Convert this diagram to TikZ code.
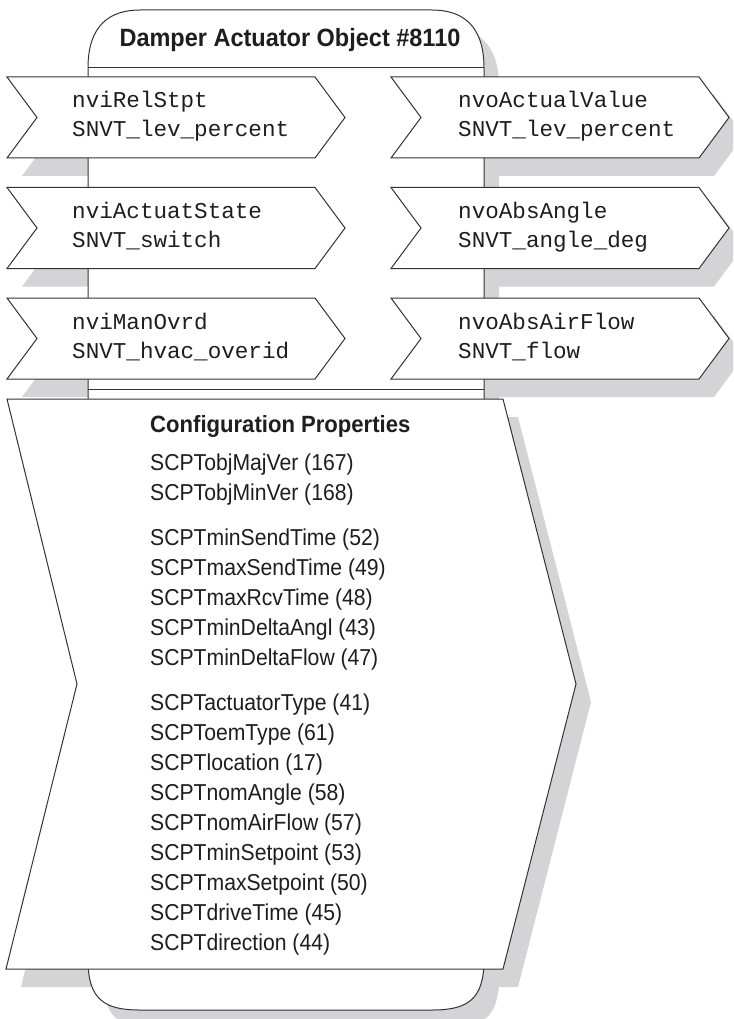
\documentclass[tikz,border=0pt]{standalone}
\usepackage{fontspec}
\setmainfont{Liberation Sans}
\newfontfamily\monofont{Liberation Mono}
\newfontfamily\condsans[FakeStretch=0.92]{Liberation Sans}
\newfontfamily\condsansb[FakeStretch=0.94]{Liberation Sans Bold}
\definecolor{linegray}{HTML}{333333}
\definecolor{shadowgray}{HTML}{D4D4D6}
\definecolor{textdark}{HTML}{1E1E1E}
\tikzset{
  outline/.style={draw=linegray, line width=1pt, fill=white, line join=miter},
  plainline/.style={draw=linegray, line width=1pt},
  shadowfill/.style={fill=shadowgray, draw=none},
  bodyp/.style={insert path={(88,68) .. controls (88,25) and (110,10) .. (140,10) -- (432,10) .. controls (462,10) and (484,25) .. (484,68) -- (484,960) .. controls (484,1000) and (467,1010) .. (432,1010) -- (140,1010) .. controls (105,1010) and (88,1000) .. (88,960) -- cycle}},
  arrowp/.style 2 args={insert path={(#1,#2) -- ++(308,0) -- ++(30,40.5) -- ++(-30,40.5) -- ++(-308,0) -- ++(30,-40.5) -- cycle}},
  bigp/.style={insert path={(7,399) -- (503,399) -- (576,684) -- (503,969) -- (6,969) -- (77,684) -- cycle}},
  monotext/.style={anchor=base west, inner sep=0pt, text=textdark, font=\fontsize{22.6}{27}\selectfont\monofont},
  headtext/.style={anchor=base, inner sep=0pt, text=textdark, font=\fontsize{25}{30}\selectfont\condsansb},
  cptitle/.style={anchor=base west, inner sep=0pt, text=textdark, font=\fontsize{23.5}{28}\selectfont\condsansb},
  cpitem/.style={anchor=base west, inner sep=0pt, text=textdark, font=\fontsize{23}{28}\selectfont\condsans}
}
\begin{document}
\begin{tikzpicture}[x=1pt,y=-1pt]
\useasboundingbox (0,0) rectangle (733,1019);
\clip (0,0) rectangle (733,1019);
% shadows
\begin{scope}[shift={(15,18)}]
  \fill[shadowfill, bodyp];
  \fill[shadowfill, arrowp={7}{77}];
  \fill[shadowfill, arrowp={7}{187.5}];
  \fill[shadowfill, arrowp={7}{298}];
  \fill[shadowfill, arrowp={391}{77}];
  \fill[shadowfill, arrowp={391}{187.5}];
  \fill[shadowfill, arrowp={391}{298}];
  \fill[shadowfill, bigp];
\end{scope}
% body
\path[outline, bodyp];
\coordinate (tabL) at (88,68);
\coordinate (tabR) at (484,68);
\coordinate (sepL) at (88,389);
\coordinate (sepR) at (484,389);
\draw[plainline] (tabL) -- (tabR);
\draw[plainline] (sepL) -- (sepR);
% arrows
\path[outline, arrowp={7}{77}];
\path[outline, arrowp={7}{187.5}];
\path[outline, arrowp={7}{298}];
\path[outline, arrowp={391}{77}];
\path[outline, arrowp={391}{187.5}];
\path[outline, arrowp={391}{298}];
\path[outline, bigp];
% texts
\node[headtext] (head) at (290,47) {Damper Actuator Object \#8110};
\node[monotext] (i1a) at (72,108) {nviRelStpt};
\node[monotext] (i1b) at (72,137) {SNVT\_lev\_percent};
\node[monotext] (i2a) at (72,218.5) {nviActuatState};
\node[monotext] (i2b) at (72,247.5) {SNVT\_switch};
\node[monotext] (i3a) at (72,329) {nviManOvrd};
\node[monotext] (i3b) at (72,358) {SNVT\_hvac\_overid};
\node[monotext] (o1a) at (458,108) {nvoActualValue};
\node[monotext] (o1b) at (458,137) {SNVT\_lev\_percent};
\node[monotext] (o2a) at (458,218.5) {nvoAbsAngle};
\node[monotext] (o2b) at (458,247.5) {SNVT\_angle\_deg};
\node[monotext] (o3a) at (458,329) {nvoAbsAirFlow};
\node[monotext] (o3b) at (458,358) {SNVT\_flow};
\node[cptitle] (cpt) at (150,432) {Configuration Properties};
\node[cpitem] (c1) at (150,470) {SCPTobjMajVer (167)};
\node[cpitem] (c2) at (150,500) {SCPTobjMinVer (168)};
\node[cpitem] (c3) at (150,545) {SCPTminSendTime (52)};
\node[cpitem] (c4) at (150,575) {SCPTmaxSendTime (49)};
\node[cpitem] (c5) at (150,605) {SCPTmaxRcvTime (48)};
\node[cpitem] (c6) at (150,635) {SCPTminDeltaAngl (43)};
\node[cpitem] (c7) at (150,665) {SCPTminDeltaFlow (47)};
\node[cpitem] (c8) at (150,710) {SCPTactuatorType (41)};
\node[cpitem] (c9) at (150,740) {SCPToemType (61)};
\node[cpitem] (c10) at (150,770) {SCPTlocation (17)};
\node[cpitem] (c11) at (150,800) {SCPTnomAngle (58)};
\node[cpitem] (c12) at (150,830) {SCPTnomAirFlow (57)};
\node[cpitem] (c13) at (150,860) {SCPTminSetpoint (53)};
\node[cpitem] (c14) at (150,890) {SCPTmaxSetpoint (50)};
\node[cpitem] (c15) at (150,920) {SCPTdriveTime (45)};
\node[cpitem] (c16) at (150,950) {SCPTdirection (44)};
\end{tikzpicture}
\end{document}
